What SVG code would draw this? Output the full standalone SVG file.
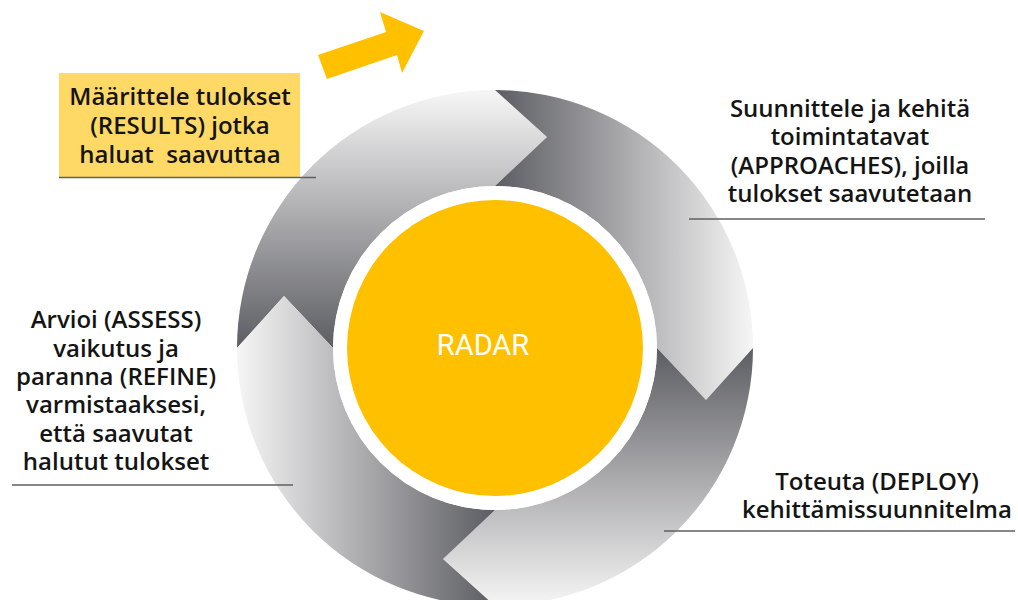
<svg xmlns="http://www.w3.org/2000/svg" width="1018" height="600" viewBox="0 0 1018 600">
  <defs>
    <!-- each ring segment fades from dark at its tail to light at its head -->
    <linearGradient id="g-tl" gradientUnits="userSpaceOnUse" x1="0" y1="95" x2="0" y2="348">
      <stop offset="0" stop-color="#f4f4f4"/>
      <stop offset="1" stop-color="#5c5d62"/>
    </linearGradient>
    <linearGradient id="g-tr" gradientUnits="userSpaceOnUse" x1="495" y1="0" x2="750" y2="0">
      <stop offset="0" stop-color="#5c5d62"/>
      <stop offset="1" stop-color="#f4f4f4"/>
    </linearGradient>
    <linearGradient id="g-br" gradientUnits="userSpaceOnUse" x1="0" y1="348" x2="0" y2="603">
      <stop offset="0" stop-color="#5c5d62"/>
      <stop offset="1" stop-color="#f4f4f4"/>
    </linearGradient>
    <linearGradient id="g-bl" gradientUnits="userSpaceOnUse" x1="495" y1="0" x2="240" y2="0">
      <stop offset="0" stop-color="#5c5d62"/>
      <stop offset="1" stop-color="#f4f4f4"/>
    </linearGradient>
  </defs>
  <style>
    .label { font-family: "Open Sans", "Noto Sans", "DejaVu Sans", sans-serif; font-size: 24px; font-weight: 600; fill: #141414; text-anchor: middle; }
    .rule { stroke: #5f5f5f; stroke-width: 1.3; fill: none; }
    .gold { fill: #ffc000; }
  </style>

  <rect width="1018" height="600" fill="#ffffff"/>

  <!-- four chevron segments forming the cycle ring -->
  <g id="ring">
    <g id="seg-results">
      <path fill="url(#g-tl)" d="M237,348 A258,258 0 0 1 495,90 L547,137 L495,186 A162,162 0 0 0 333,348 L284,296 Z"/>
    </g>
    <g id="seg-approaches">
      <path fill="url(#g-tr)" d="M495,90 A258,258 0 0 1 753,348 L706,400 L657,348 A162,162 0 0 0 495,186 L547,137 Z"/>
    </g>
    <g id="seg-deploy">
      <path fill="url(#g-br)" d="M753,348 A258,258 0 0 1 495,606 L443,559 L495,510 A162,162 0 0 0 657,348 L706,400 Z"/>
    </g>
    <g id="seg-assess">
      <path fill="url(#g-bl)" d="M495,606 A258,258 0 0 1 237,348 L284,296 L333,348 A162,162 0 0 0 495,510 L443,559 Z"/>
    </g>
  </g>

  <!-- central hub -->
  <g id="radar">
    <circle cx="495" cy="348" r="162" fill="#ffffff"/>
    <circle class="gold" cx="495" cy="348" r="148"/>
    <text x="483" y="355" font-family="Roboto, 'Liberation Sans', sans-serif" font-size="29" fill="#ffffff" text-anchor="middle">RADAR</text>
  </g>

  <!-- arrow showing the start of the cycle -->
  <g id="connectors">
    <polygon class="gold" points="318,55 386,32 380,12 424,31 402,73 397,55 327,79"/>
  </g>

  <g id="label-results">
    <rect x="59" y="73" width="241" height="104" fill="#ffd966"/>
    <line class="rule" x1="59" y1="177.5" x2="316" y2="177.5"/>
    <text class="label" x="180" y="105">Määrittele tulokset</text>
    <text class="label" x="180" y="134">(RESULTS) jotka</text>
    <text class="label" x="180" y="163" xml:space="preserve">haluat  saavuttaa</text>
  </g>

  <g id="label-approaches">
    <text class="label" x="850" y="117">Suunnittele ja kehitä</text>
    <text class="label" x="850" y="145">toimintatavat</text>
    <text class="label" x="850" y="174">(APPROACHES), joilla</text>
    <text class="label" x="850" y="202">tulokset saavutetaan</text>
    <line class="rule" x1="689" y1="219" x2="985" y2="219"/>
  </g>

  <g id="label-deploy">
    <text class="label" x="877" y="490">Toteuta (DEPLOY)</text>
    <text class="label" x="877" y="518">kehittämissuunnitelma</text>
    <line class="rule" x1="664" y1="531" x2="1015" y2="531"/>
  </g>

  <g id="label-assess">
    <text class="label" x="116" y="328">Arvioi (ASSESS)</text>
    <text class="label" x="116" y="357">vaikutus ja</text>
    <text class="label" x="116" y="385">paranna (REFINE)</text>
    <text class="label" x="116" y="413">varmistaaksesi,</text>
    <text class="label" x="116" y="442">että saavutat</text>
    <text class="label" x="116" y="470">halutut tulokset</text>
    <line class="rule" x1="12" y1="485" x2="293" y2="485"/>
  </g>
</svg>
